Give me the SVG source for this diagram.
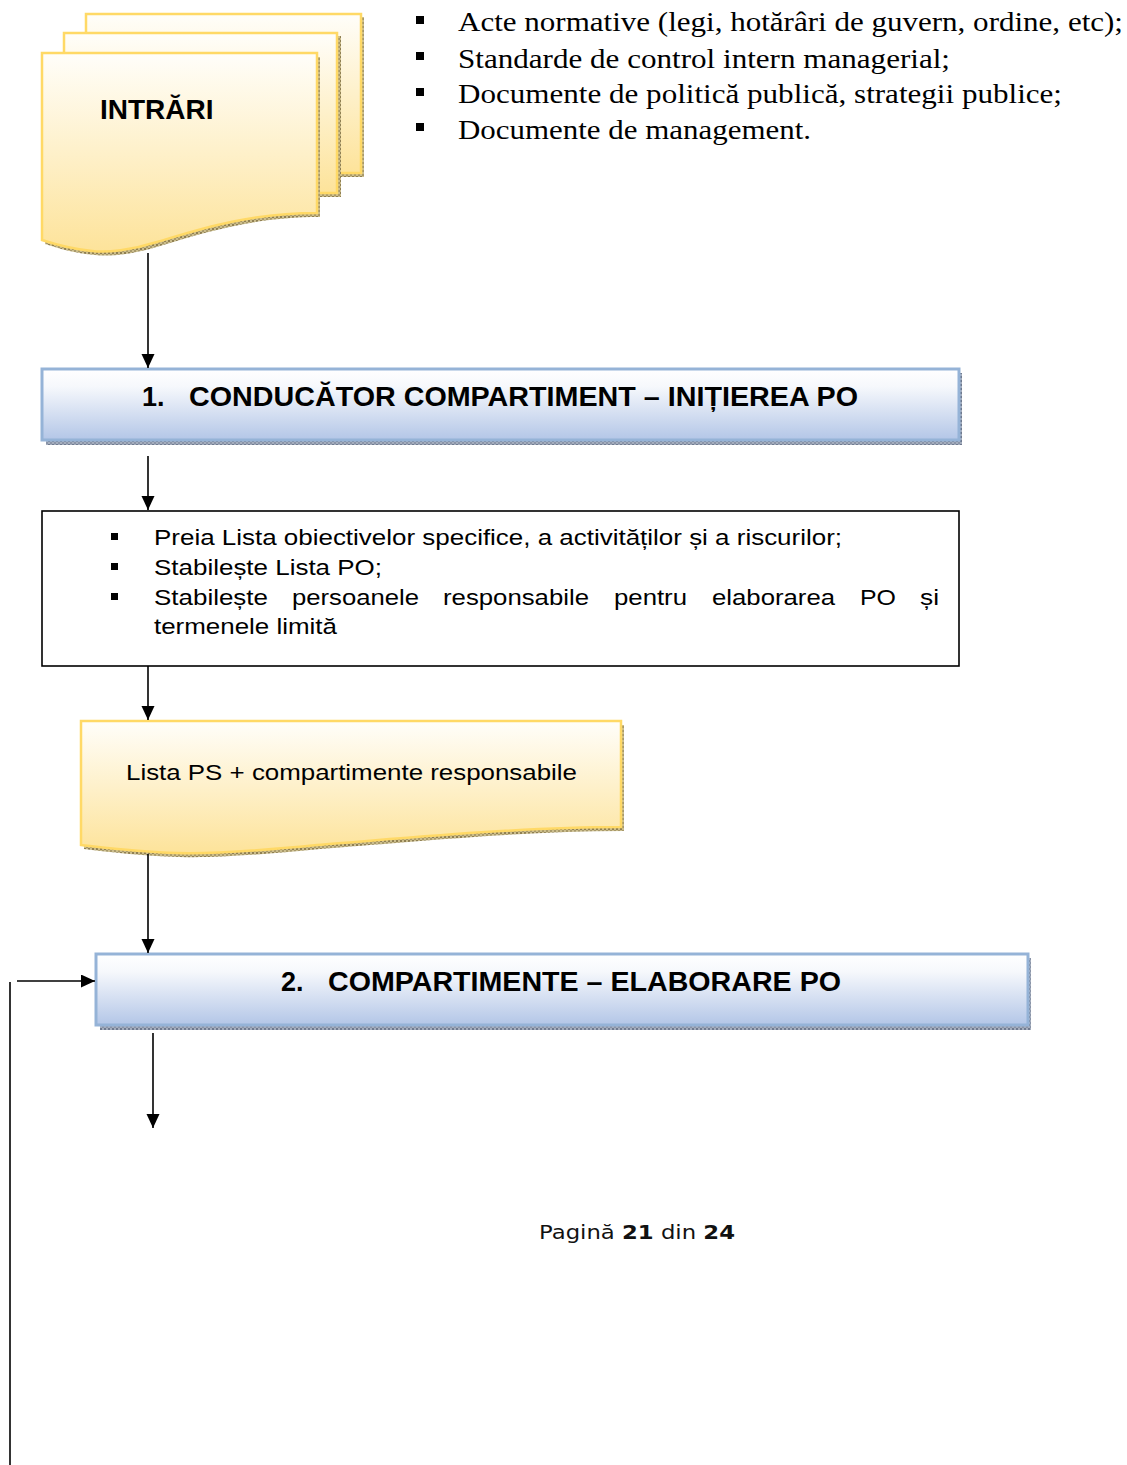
<svg xmlns="http://www.w3.org/2000/svg" width="1127" height="1465" viewBox="0 0 1127 1465">
  <style>
    .doc { stroke: #ffd966; stroke-width: 2.5; fill: url(#docFill); }
    .docShadow { fill: url(#hatchGold); }
    .proc { stroke: #95b3d7; stroke-width: 3; fill: url(#procFill); }
    .procShadow { fill: url(#hatchBlue); }
    .conn { stroke: #000; stroke-width: 1.6; fill: none; }
    .arrow { marker-end: url(#head); }
    .sans { font-family: "Liberation Sans", Arial, sans-serif; fill: #000; }
    .serif { font-family: "Liberation Serif", "Times New Roman", serif; fill: #000; }
    .title { font-weight: bold; font-size: 27px; }
    .body { font-size: 22px; }
    .list { font-size: 27px; }
    .footer { font-family: "DejaVu Sans", Verdana, sans-serif; font-size: 20px; fill: #111; }
  </style>
  <defs>
    <linearGradient id="docFill" x1="0" y1="0" x2="0" y2="1">
      <stop offset="0" stop-color="#fffefa"/>
      <stop offset="1" stop-color="#fde39a"/>
    </linearGradient>
    <linearGradient id="procFill" x1="0" y1="0" x2="0" y2="1">
      <stop offset="0" stop-color="#ffffff"/>
      <stop offset="0.25" stop-color="#f6f8fc"/>
      <stop offset="1" stop-color="#b3c6e7"/>
    </linearGradient>
    <pattern id="hatchGold" width="4" height="4" patternUnits="userSpaceOnUse">
      <rect width="4" height="4" fill="#cbbd8c"/>
      <rect width="2" height="2" fill="#8f7f52"/>
      <rect x="2" y="2" width="2" height="2" fill="#a8996a"/>
    </pattern>
    <pattern id="hatchBlue" width="4" height="4" patternUnits="userSpaceOnUse">
      <rect width="4" height="4" fill="#a4adbd"/>
      <rect width="2" height="2" fill="#6f7a8f"/>
      <rect x="2" y="2" width="2" height="2" fill="#8a94a8"/>
    </pattern>
    <marker id="head" markerUnits="userSpaceOnUse" markerWidth="14" markerHeight="14" refX="14" refY="6.5" orient="auto">
      <path d="M0,0 L14,6.5 L0,13 Z" fill="#000"/>
    </marker>
  </defs>

  <!-- Input documents (stacked pages) -->
  <g id="node-intrari">
    <rect class="docShadow" x="89" y="17" width="275" height="160"/>
    <rect class="doc" x="86" y="14" width="275" height="159"/>
    <rect class="docShadow" x="67" y="36" width="274" height="161"/>
    <rect class="doc" x="64" y="33" width="273" height="160"/>
    <path class="docShadow" d="M45,57 H320 V217 C250,217 200,234 160,246 C135,254 110,257 95,255 C75,253 60,249 45,244 Z"/>
    <path class="doc" d="M42,53 H317 V213 C247,213 197,230 157,242 C132,250 107,253 92,251 C72,249 57,245 42,240 Z"/>
    <text class="sans" x="100" y="119" font-weight="bold" font-size="28">INTRĂRI</text>
  </g>

  <!-- Input list -->
  <g id="node-inputs-list">
    <rect x="416" y="16" width="8" height="8" fill="#000"/>
    <rect x="416" y="52" width="8" height="8" fill="#000"/>
    <rect x="416" y="88" width="8" height="8" fill="#000"/>
    <rect x="416" y="123" width="8" height="8" fill="#000"/>
    <text class="serif list" x="458" y="31" textLength="665" lengthAdjust="spacingAndGlyphs">Acte normative (legi, hotărâri de guvern, ordine, etc);</text>
    <text class="serif list" x="458" y="68" textLength="492" lengthAdjust="spacingAndGlyphs">Standarde de control intern managerial;</text>
    <text class="serif list" x="458" y="103" textLength="604" lengthAdjust="spacingAndGlyphs">Documente de politică publică, strategii publice;</text>
    <text class="serif list" x="458" y="139" textLength="353" lengthAdjust="spacingAndGlyphs">Documente de management.</text>
  </g>

  <!-- Step 1 -->
  <g id="node-step1">
    <rect class="procShadow" x="46" y="373" width="916" height="72"/>
    <rect class="proc" x="42" y="369" width="917" height="71"/>
    <text class="sans title" x="142" y="406">1.</text>
    <text class="sans title" x="189" y="406" textLength="669" lengthAdjust="spacingAndGlyphs">CONDUCĂTOR COMPARTIMENT – INIȚIEREA PO</text>
  </g>

  <!-- Step 1 actions -->
  <g id="node-actions">
    <rect x="42" y="511" width="917" height="155" fill="#fff" stroke="#000" stroke-width="1.6"/>
    <rect x="111" y="533" width="7" height="7" fill="#000"/>
    <rect x="111" y="563" width="7" height="7" fill="#000"/>
    <rect x="111" y="593" width="7" height="7" fill="#000"/>
    <text class="sans body" x="154" y="545" textLength="688" lengthAdjust="spacingAndGlyphs">Preia Lista obiectivelor specifice, a activităților și a riscurilor;</text>
    <text class="sans body" x="154" y="575" textLength="228" lengthAdjust="spacingAndGlyphs">Stabilește Lista PO;</text>
    <text class="sans body" x="154" y="605" textLength="114" lengthAdjust="spacingAndGlyphs">Stabilește</text>
    <text class="sans body" x="292" y="605" textLength="127" lengthAdjust="spacingAndGlyphs">persoanele</text>
    <text class="sans body" x="443" y="605" textLength="146" lengthAdjust="spacingAndGlyphs">responsabile</text>
    <text class="sans body" x="614" y="605" textLength="73" lengthAdjust="spacingAndGlyphs">pentru</text>
    <text class="sans body" x="712" y="605" textLength="123" lengthAdjust="spacingAndGlyphs">elaborarea</text>
    <text class="sans body" x="860" y="605" textLength="36" lengthAdjust="spacingAndGlyphs">PO</text>
    <text class="sans body" x="920" y="605" textLength="19" lengthAdjust="spacingAndGlyphs">și</text>
    <text class="sans body" x="154" y="634" textLength="183" lengthAdjust="spacingAndGlyphs">termenele limită</text>
  </g>

  <!-- Output document -->
  <g id="node-lista-ps">
    <path class="docShadow" d="M84,725 H624 V831 C520,831 400,843 320,849 C260,855 215,858 180,857 C140,856 110,852 84,849 Z"/>
    <path class="doc" d="M81,721 H621 V827 C517,827 397,839 317,845 C257,851 212,854 177,853 C137,852 107,848 81,845 Z"/>
    <text class="sans body" x="126" y="780" textLength="451" lengthAdjust="spacingAndGlyphs">Lista PS + compartimente responsabile</text>
  </g>

  <!-- Step 2 -->
  <g id="node-step2">
    <rect class="procShadow" x="100" y="958" width="931" height="72"/>
    <rect class="proc" x="96" y="954" width="932" height="71"/>
    <text class="sans title" x="281" y="991">2.</text>
    <text class="sans title" x="328" y="991" textLength="513" lengthAdjust="spacingAndGlyphs">COMPARTIMENTE – ELABORARE PO</text>
  </g>

  <!-- Connectors -->
  <g id="connectors">
    <line class="conn arrow" x1="148" y1="253" x2="148" y2="368"/>
    <line class="conn arrow" x1="148" y1="456" x2="148" y2="510"/>
    <line class="conn arrow" x1="148" y1="666" x2="148" y2="720"/>
    <line class="conn arrow" x1="148" y1="854" x2="148" y2="953"/>
    <line class="conn arrow" x1="17" y1="981" x2="95" y2="981"/>
    <line class="conn" x1="10" y1="982" x2="10" y2="1465"/>
    <line class="conn arrow" x1="153" y1="1033" x2="153" y2="1128"/>
  </g>

  <!-- Page footer -->
  <text class="footer" x="539" y="1239" textLength="196" lengthAdjust="spacingAndGlyphs">Pagină <tspan font-weight="bold">21</tspan> din <tspan font-weight="bold">24</tspan></text>
</svg>
